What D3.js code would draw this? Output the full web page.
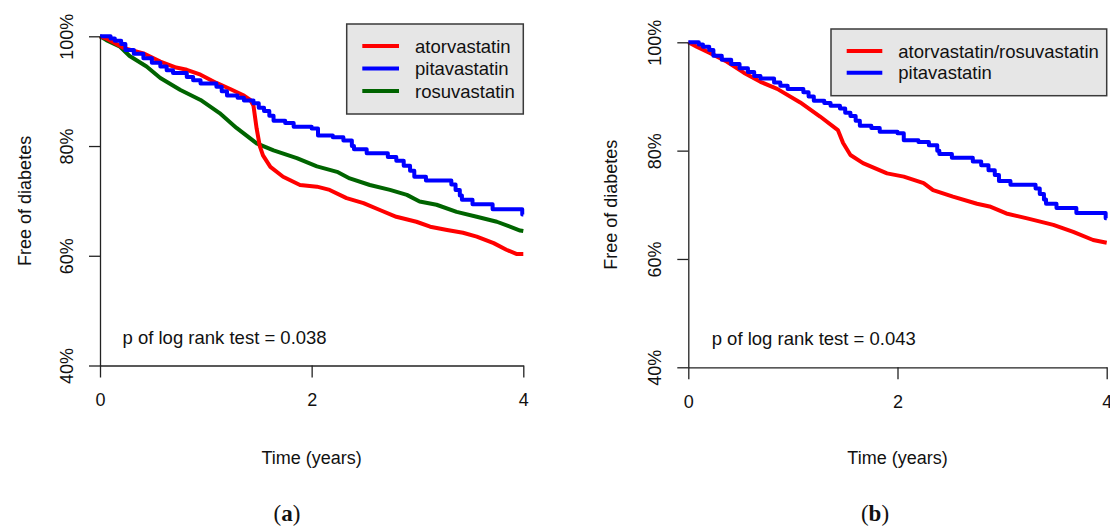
<!DOCTYPE html>
<html>
<head>
<meta charset="utf-8">
<script src="https://cdn.jsdelivr.net/npm/d3@7"></script>
<style>
  html, body { margin: 0; padding: 0; background: #fff; }
  svg { display: block; }
  text { font-family: "Liberation Sans", Arial, Helvetica, sans-serif; fill: #111; }
</style>
</head>
<body>
<svg id="chart" width="1110" height="529"></svg>
<script>
// ---------------- DATA ----------------
const xTicks = [0, 2, 4];
const yTicks = [40, 60, 80, 100];
const yTickLabels = ["40%", "60%", "80%", "100%"];

const legendA = ["atorvastatin", "pitavastatin", "rosuvastatin"];
const legendB = ["atorvastatin/rosuvastatin", "pitavastatin"];
const pValueA = "p of log rank test = 0.038";
const pValueB = "p of log rank test = 0.043";

// [time (years), % free of diabetes]
const atorvastatin = [[0,100],[0.06,99.6],[0.22,97.9],[0.41,96.9],[0.57,95.4],[0.72,94.3],[0.82,93.9],[0.95,93.0],[1.10,91.5],[1.23,90.4],[1.35,89.3],[1.42,88.4],[1.45,87.4],[1.48,83.2],[1.51,80.0],[1.54,78.3],[1.61,76.2],[1.73,74.4],[1.89,72.9],[2.05,72.6],[2.17,72.0],[2.33,70.5],[2.49,69.6],[2.65,68.3],[2.80,67.1],[2.99,66.2],[3.12,65.3],[3.28,64.7],[3.43,64.2],[3.56,63.5],[3.72,62.3],[3.84,61.1],[3.94,60.3],[4.0,60.3]];

const rosuvastatin = [[0,100],[0.06,99.3],[0.19,98.1],[0.28,96.4],[0.44,94.5],[0.57,92.4],[0.76,90.2],[0.95,88.4],[1.13,86.0],[1.29,83.3],[1.48,80.5],[1.64,79.2],[1.86,77.8],[2.05,76.3],[2.24,75.3],[2.36,74.1],[2.55,72.9],[2.74,72.0],[2.90,71.1],[3.02,69.9],[3.18,69.3],[3.37,68.0],[3.56,67.1],[3.75,66.2],[3.97,64.6],[4.0,64.5]];

// step data: time of event, new level
const pitavastatin = [[0,100],[0.10,99.6],[0.14,99.2],[0.20,98.6],[0.24,97.5],[0.32,96.8],[0.41,96.0],[0.49,95.2],[0.57,94.5],[0.63,93.8],[0.69,93.3],[0.82,92.6],[0.88,92.0],[0.95,91.4],[1.10,90.8],[1.15,90.0],[1.20,89.2],[1.30,88.8],[1.36,88.3],[1.45,87.8],[1.50,87.0],[1.55,86.4],[1.60,85.5],[1.64,84.6],[1.75,84.2],[1.83,83.5],[2.00,83.2],[2.06,81.9],[2.20,81.6],[2.30,81.0],[2.38,80.0],[2.40,79.4],[2.52,78.7],[2.72,78.0],[2.80,77.3],[2.87,76.4],[2.93,75.5],[2.97,74.4],[3.08,73.7],[3.32,73.0],[3.36,72.0],[3.40,71.0],[3.42,70.2],[3.52,69.4],[3.71,68.5],[3.99,67.5],[4.0,67.5]];

const atorRosuvastatin = [[0,100],[0.08,99.2],[0.21,98.0],[0.37,96.4],[0.53,94.4],[0.69,92.7],[0.85,91.4],[1.07,88.9],[1.26,86.3],[1.43,83.8],[1.48,81.4],[1.55,79.2],[1.67,77.7],[1.90,75.8],[2.06,75.2],[2.25,74.0],[2.34,72.7],[2.53,71.5],[2.76,70.2],[2.88,69.7],[3.04,68.4],[3.24,67.5],[3.49,66.3],[3.68,65.0],[3.87,63.5],[4.0,63.0]];

// ---------------- DRAW ----------------
const svg = d3.select("#chart");
const RED = "#ff0000", BLUE = "#0000ff", GREEN = "#006400";

const panels = [
  {
    x0: 100, x1: 523.3, yTop: 36.3, yBot: 365.5,
    series: [
      {data: rosuvastatin, color: GREEN, step: false},
      {data: atorvastatin, color: RED, step: false},
      {data: pitavastatin, color: BLUE, step: true}
    ],
    legend: {names: legendA, colors: [RED, BLUE, GREEN], box: [346.7, 24, 523.3, 114], rows: [46, 68.5, 91], seg: [362.3, 399], tx: 415},
    pText: pValueA, pPos: [122.5, 337],
    ylabX: 25, xlabY: 458,
    tag: "a", tagX: 287
  },
  {
    x0: 688.3, x1: 1106.7, yTop: 42.3, yBot: 367.3,
    series: [
      {data: atorRosuvastatin, color: RED, step: false},
      {data: pitavastatin, color: BLUE, step: true}
    ],
    legend: {names: legendB, colors: [RED, BLUE], box: [831, 29, 1106.7, 95.7], rows: [51, 72.7], seg: [846.7, 882.3], tx: 898.3},
    pText: pValueB, pPos: [711.7, 338.3],
    ylabX: 611, xlabY: 458.3,
    tag: "b", tagX: 875
  }
];

panels.forEach(p => {
  const x = d3.scaleLinear().domain([0, 4]).range([p.x0, p.x1]);
  const y = d3.scaleLinear().domain([40, 100]).range([p.yBot, p.yTop]);
  const g = svg.append("g");

  // curves
  p.series.forEach(s => {
    const line = d3.line()
      .x(d => x(d[0])).y(d => y(d[1]))
      .curve(s.step ? d3.curveStepAfter : d3.curveLinear);
    g.append("path").datum(s.data)
      .attr("d", line)
      .attr("fill", "none")
      .attr("stroke", s.color)
      .attr("stroke-width", 4)
      .attr("stroke-linejoin", "round");
  });

  // y axis
  const ya = g.append("g").attr("transform", `translate(${p.x0},0)`)
    .call(d3.axisLeft(y).tickValues(yTicks).tickSize(11).tickSizeOuter(0)
      .tickFormat((d, i) => yTickLabels[i]));
  ya.selectAll("text")
    .attr("x", null).attr("dy", null)
    .attr("transform", "translate(-33,0) rotate(-90)")
    .attr("text-anchor", "middle")
    .attr("dominant-baseline", "central")
    .style("font-size", "18px");

  // x axis
  const xa = g.append("g").attr("transform", `translate(0,${p.yBot})`)
    .call(d3.axisBottom(x).tickValues(xTicks).tickSize(12).tickSizeOuter(0).tickFormat(d3.format("d")));
  xa.selectAll("text")
    .attr("y", 34.5).attr("dy", "0.35em")
    .style("font-size", "18px");

  [ya, xa].forEach(a => {
    a.select(".domain").attr("stroke", "#222").attr("stroke-width", 1.3);
    a.selectAll(".tick line").attr("stroke", "#222").attr("stroke-width", 1.3);
    a.selectAll("text").attr("font-family", null).attr("fill", "#111");
  });

  // axis titles
  g.append("text")
    .attr("transform", `translate(${p.ylabX},${(p.yTop + p.yBot) / 2 + 13 * 0}) rotate(-90)`)
    .attr("text-anchor", "middle").attr("dominant-baseline", "central")
    .style("font-size", "18px").text("Free of diabetes");
  g.append("text")
    .attr("x", (p.x0 + p.x1) / 2).attr("y", p.xlabY)
    .attr("text-anchor", "middle").attr("dominant-baseline", "central")
    .style("font-size", "18px").text("Time (years)");

  // p-value
  g.append("text")
    .attr("x", p.pPos[0]).attr("y", p.pPos[1])
    .attr("dominant-baseline", "central")
    .style("font-size", "18.5px").text(p.pText);

  // legend
  const L = p.legend;
  g.append("rect")
    .attr("x", L.box[0]).attr("y", L.box[1])
    .attr("width", L.box[2] - L.box[0]).attr("height", L.box[3] - L.box[1])
    .attr("fill", "#e6e6e6").attr("stroke", "#3a3a3a").attr("stroke-width", 1.5);
  L.names.forEach((n, i) => {
    g.append("line")
      .attr("x1", L.seg[0]).attr("x2", L.seg[1])
      .attr("y1", L.rows[i]).attr("y2", L.rows[i])
      .attr("stroke", L.colors[i]).attr("stroke-width", 4);
    g.append("text")
      .attr("x", L.tx).attr("y", L.rows[i])
      .attr("dominant-baseline", "central")
      .style("font-size", "18.5px").text(n);
  });

  // panel tag
  const t = svg.append("text")
    .attr("x", p.tagX).attr("y", 513)
    .attr("text-anchor", "middle").attr("dominant-baseline", "central")
    .style("font-family", '"Liberation Serif", "DejaVu Serif", serif')
    .style("font-size", "23px");
  t.append("tspan").text("(");
  t.append("tspan").style("font-weight", "bold").text(p.tag);
  t.append("tspan").text(")");
});
</script>
</body>
</html>
